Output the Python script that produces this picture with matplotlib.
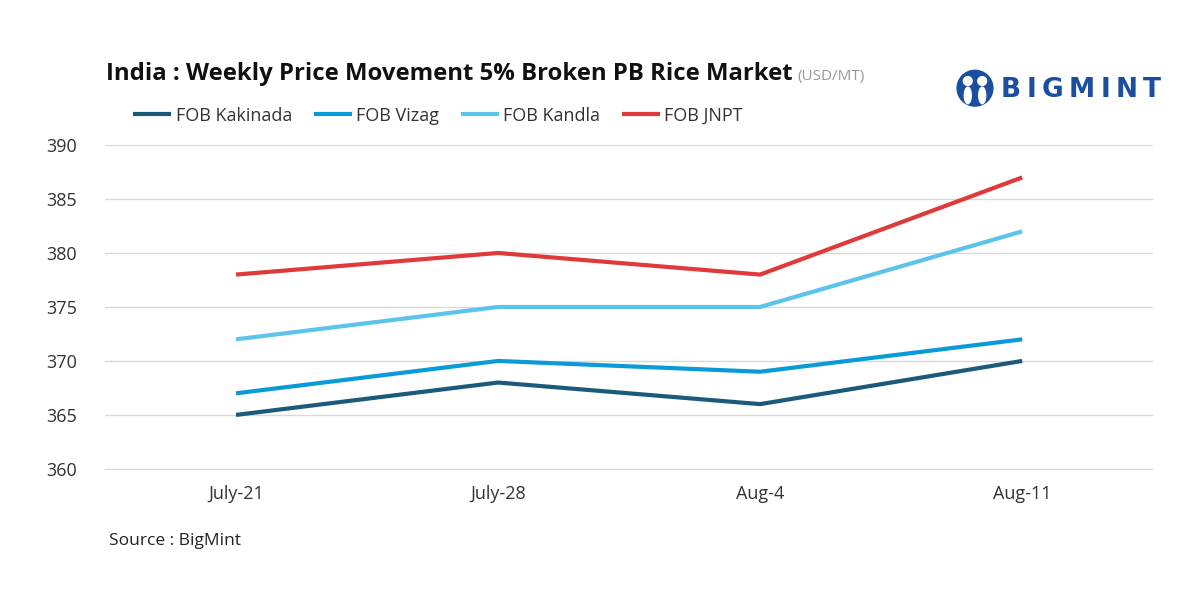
import matplotlib.pyplot as plt
from matplotlib.patches import Ellipse

weeks = ["July-21", "July-28", "Aug-4", "Aug-11"]
kakinada = [365, 368, 366, 370]
vizag = [367, 370, 369, 372]
kandla = [372, 375, 375, 382]
jnpt = [378, 380, 378, 387]

series = [
    ("FOB Kakinada", kakinada, "#1b5a7a"),
    ("FOB Vizag", vizag, "#0a9ad8"),
    ("FOB Kandla", kandla, "#5cc3ec"),
    ("FOB JNPT", jnpt, "#e0393a"),
]

plt.rcParams['font.family'] = ['Open Sans', 'DejaVu Sans']

fig = plt.figure(figsize=(12, 6), dpi=100)
ax = fig.add_axes([0.0875, 0.2167, 0.8735, 0.5416])

x = range(len(weeks))
for name, vals, col in series:
    ax.plot(x, vals, color=col, linewidth=3, label=name, solid_capstyle='butt')

ax.set_xlim(-0.5, 3.5)
ax.set_ylim(359.9, 390)
ax.set_yticks(range(360, 391, 5))
ax.set_xticks(list(x))
ax.set_xticklabels(weeks)
ax.grid(axis='y', color='#d9d9d9', linewidth=1)
ax.set_axisbelow(True)
for s in ax.spines.values():
    s.set_visible(False)
ax.tick_params(axis='both', length=0, labelsize=13, colors='#333333')
ax.tick_params(axis='y', pad=20)
ax.tick_params(axis='x', pad=11)

leg = ax.legend(loc='lower left', bbox_to_anchor=(0.02, 1.04), ncol=4, frameon=False,
                fontsize=13, handlelength=2.1, handletextpad=0.25, columnspacing=1.2,
                borderaxespad=0, labelcolor='#333333')

title = fig.text(0.088, 0.877, "India : Weekly Price Movement 5% Broken PB Rice Market",
                 fontsize=17.2, fontweight='bold', color='#111111', va='center')
fig.canvas.draw()
inv = fig.transFigure.inverted()
bb = title.get_window_extent().transformed(inv)
fig.text(bb.x1 + 0.004, 0.873, "(USD/MT)", fontsize=11, color='#999999', va='center')

fig.text(0.091, 0.099, "Source : BigMint", fontsize=12.5, color='#222222', va='center')

# logo
cx, cy, r = 0.8125, 0.853, 0.0155
fig.patches.append(Ellipse((cx, cy), 2 * r, 4 * r, transform=fig.transFigure,
                           facecolor='#1a4fa0', edgecolor='none'))
for dx in (-0.006, 0.006):
    fig.patches.append(Ellipse((cx + dx, cy + 0.012), 0.0085, 0.017, transform=fig.transFigure,
                               facecolor='white', edgecolor='none'))
    fig.patches.append(Ellipse((cx + dx, cy - 0.012), 0.007, 0.03, transform=fig.transFigure,
                               facecolor='white', edgecolor='none'))
lx = 0.834
for ch in "BIGMINT":
    t = fig.text(lx, 0.85, ch, fontsize=19, fontweight='bold',
                 color='#1a4fa0', va='center', ha='left', family='DejaVu Sans')
    fig.canvas.draw()
    lx = t.get_window_extent().transformed(inv).x1 + 0.0045

fig.savefig("out.png", dpi=100, facecolor='white')
